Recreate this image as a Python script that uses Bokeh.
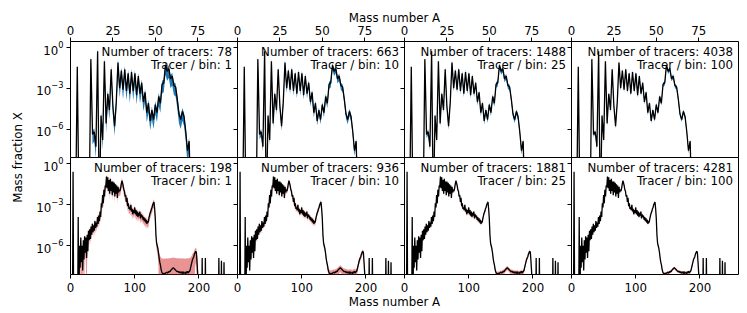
import math
from bokeh.plotting import figure
from bokeh.models import (Range1d, FixedTicker, Label,
                          CustomJSTickFormatter, ColumnDataSource)
from bokeh.embed import file_html
from bokeh.resources import INLINE

# ---------------- data ----------------
# log10 of the mass fraction X; ABSENT marks bins with no material
ABSENT = -12
# top row: mass number A = 1..75
mass_top = list(range(1, 76))
log_x_top = [
    -12, -12, -12, -1.42, -12, -12, -12, -12, -12, -12,
    -12, -0.85, -6.4, -6.2, -7.3, -0.27, -12, -5.0, -6.8, -1.0,
    -5.6, -3.4, -4.6, -1.6, -4.3, -5.8, -4.0, -1.1, -3.0, -1.7,
    -3.1, -1.6, -3.2, -1.9, -3.4, -1.8, -3.2, -1.9, -3.5, -2.1,
    -3.4, -2.6, -4.0, -3.3, -4.8, -4.1, -5.4, -4.6, -5.3, -4.2,
    -4.8, -3.6, -4.1, -2.7, -2.6, -1.3, -1.75, -1.55, -2.3, -2.1,
    -2.8, -2.9, -3.8, -4.9, -5.3, -4.7, -5.1, -6.2, -7.6, -6.9,
    -12, -12, -12, -12, -12,
]
# bottom row: mass number A = 1..245
mass_bot = list(range(1, 246))
log_x_bot = [
    -12, -12, -12, -0.6, -12, -12, -12, -12, -12, -12,
    -12, -3.9, -12, -6.0, -7.6, -5.4, -7.2, -6.0, -7.8, -5.6,
    -7.0, -5.3, -6.5, -5.4, -6.9, -5.2, -6.4, -4.9, -5.6, -4.8,
    -5.5, -4.6, -5.2, -4.4, -5.0, -4.5, -4.9, -4.2, -4.7, -4.3,
    -4.6, -3.9, -4.4, -3.8, -4.2, -3.5, -3.9, -2.9, -3.2, -2.3,
    -2.9, -1.9, -2.4, -1.6, -1.7, -0.95, -1.8, -1.0, -2.0, -1.2,
    -2.2, -1.1, -2.0, -1.3, -2.3, -1.3, -2.1, -1.4, -2.4, -1.5,
    -2.2, -1.6, -2.5, -1.7, -2.1, -1.9, -2.0, -1.8, -1.5, -1.25,
    -1.4, -1.6, -1.9, -2.0, -2.4, -2.3, -2.8, -2.5, -3.1, -2.9,
    -3.3, -3.2, -3.4, -3.0, -3.5, -3.3, -3.7, -3.4, -3.6, -3.2,
    -3.7, -3.4, -3.8, -3.5, -3.9, -3.6, -3.8, -3.5, -4.0, -3.7,
    -3.9, -3.8, -4.1, -3.9, -4.2, -4.0, -4.3, -4.1, -4.4, -4.2,
    -4.3, -4.0, -3.8, -3.6, -3.5, -3.3, -3.2, -3.0, -2.9, -2.8,
    -3.3, -4.0, -5.2, -5.8, -6.0, -6.2, -6.5, -6.9, -7.2, -7.4,
    -7.7, -7.9, -8.0, -8.05, -8.05, -8.0, -8.05, -8.0, -7.95, -7.95,
    -8.0, -7.9, -7.95, -7.85, -7.9, -7.8, -7.75, -7.7, -7.65, -7.6,
    -7.65, -7.7, -7.75, -7.8, -7.85, -7.9, -7.85, -7.9, -7.95, -7.9,
    -8.0, -7.9, -8.0, -7.9, -8.05, -7.9, -8.0, -7.95, -8.05, -7.9,
    -8.0, -7.85, -8.0, -7.9, -7.9, -7.8, -7.6, -7.4, -7.2, -7.0,
    -6.9, -6.8, -6.6, -6.5, -6.4, -6.5, -7.2, -8.0, -12, -12,
    -12, -12, -12, -12, -6.9, -12, -12, -12, -12, -6.9,
    -12, -12, -12, -12, -12, -12, -12, -12, -12, -12,
    -12, -12, -12, -12, -12, -12, -12, -12, -12, -12,
    -6.9, -12, -12, -12, -7.1, -12, -12, -12, -7.2, -12,
    -12, -12, -12, -12, -12,
]
tracers_top = [78, 663, 1488, 4038]
tracers_bot = [198, 936, 1881, 4281]
tracer_per_bin = [1, 10, 25, 100]
# relative spread of the shaded band and its absolute floor, per panel
rel_err_top = [0.8, 0.55, 0.45, 0.35]
rel_err_bot = [0.6, 0.4, 0.3, 0.2]
floor_top = [3e-9, 1e-9, 5e-10, 2e-10]
floor_bot = [1e-7, 3e-9, 1e-9, 3e-10]
x_ticks_top = [0, 25, 50, 75]
x_ticks_bot = [0, 100, 200]
y_ticks = [1e-6, 1e-3, 1.0]
x_max_top = 98.5
x_max_bot = 260
y_min, y_max = 10 ** -8.1, 10 ** 0.45

# ---------------- layout constants ----------------
W, H = 731, 300
FONT = "DejaVu Sans"
FS = "11.8px"
col_left = [62, 229, 396, 563]
frame_w = 167
row_top = [33, 149]
row_h = [116, 117]
STACK = {"position": "absolute", "top": "8px", "left": "8px"}


def make_panel(r, c):
    top = r == 0
    mass = mass_top if top else mass_bot
    logx = log_x_top if top else log_x_bot
    X = [10.0 ** v for v in logx]
    rel = (rel_err_top if top else rel_err_bot)[c]
    flo = (floor_top if top else floor_bot)[c]
    err = [0.0 if lv <= ABSENT else rel * v + flo for v, lv in zip(X, logx)]
    hi = [v + e for v, e in zip(X, err)]
    lo = [max(v - e, 1e-14) for v, e in zip(X, err)]
    src = ColumnDataSource(dict(A=mass, X=X, lo=lo, hi=hi))

    left = col_left[c]
    fh = row_h[r]
    t = row_top[r]
    p = figure(width=W, height=H,
               output_backend="svg", toolbar_location=None,
               x_range=Range1d(0, x_max_top if top else x_max_bot),
               y_range=Range1d(y_min, y_max), y_axis_type="log",
               x_axis_location="above" if top else "below",
               min_border_left=left, min_border_right=W - left - frame_w,
               min_border_top=t, min_border_bottom=H - t - fh,
               background_fill_alpha=0, border_fill_alpha=0,
               outline_line_color="black", outline_line_width=1,
               outline_line_alpha=1, styles=STACK)
    p.xgrid.grid_line_color = None
    p.ygrid.grid_line_color = None
    if top:
        p.varea(x="A", y1="lo", y2="hi", source=src,
                fill_color="#1f77b4", fill_alpha=1.0)
    else:
        p.varea(x="A", y1="lo", y2="hi", source=src,
                fill_color="#d62728", fill_alpha=0.5)
    p.line(x="A", y="X", source=src, line_color="black", line_width=1.3)

    for ax in p.axis:
        ax.axis_line_color = None
        ax.major_tick_line_color = "black"
        ax.major_tick_line_width = 1
        ax.major_tick_out = 4
        ax.major_tick_in = 0
        ax.minor_tick_line_color = None
        ax.major_label_text_font = FONT
        ax.major_label_text_font_size = FS
        ax.major_label_text_color = "black"
        ax.major_label_standoff = 3
    if not top:
        p.xaxis.major_label_standoff = 4
    p.xaxis.ticker = FixedTicker(ticks=x_ticks_top if top else x_ticks_bot)
    p.yaxis.ticker = FixedTicker(ticks=y_ticks)
    if c > 0:
        p.yaxis.formatter = CustomJSTickFormatter(code="return ''")

    n = (tracers_top if top else tracers_bot)[c]
    p.add_layout(Label(x=frame_w - 5.5, y=fh - 10.3, x_units="screen",
                       y_units="screen", text=f"Number of tracers: {n}",
                       text_align="right", text_baseline="alphabetic",
                       text_font=FONT, text_font_size=FS, text_color="black"))
    p.add_layout(Label(x=frame_w - 5.5, y=fh - 23.7, x_units="screen",
                       y_units="screen",
                       text=f"Tracer / bin: {tracer_per_bin[c]}",
                       text_align="right", text_baseline="alphabetic",
                       text_font=FONT, text_font_size=FS, text_color="black"))
    return p


# figure holding the shared axis titles (frame = whole canvas)
lab = figure(width=W, height=H, output_backend="svg", toolbar_location=None,
             x_range=Range1d(0, 1), y_range=Range1d(0, 1), min_border=0,
             x_axis_location=None, y_axis_location=None,
             outline_line_color=None, background_fill_alpha=0,
             border_fill_alpha=0, styles=STACK)
lab.xgrid.grid_line_color = None
lab.ygrid.grid_line_color = None
lab.add_layout(Label(x=386, y=H - 9.3, x_units="screen", y_units="screen",
                     text="Mass number A", text_align="center",
                     text_baseline="alphabetic", text_font=FONT,
                     text_font_size=FS, text_color="black"))
lab.add_layout(Label(x=386, y=H - 293.3, x_units="screen", y_units="screen",
                     text="Mass number A", text_align="center",
                     text_baseline="alphabetic", text_font=FONT,
                     text_font_size=FS, text_color="black"))
lab.add_layout(Label(x=9.3, y=H - 149, x_units="screen", y_units="screen",
                     text="Mass fraction X", angle=math.pi / 2,
                     text_align="center", text_baseline="alphabetic",
                     text_font=FONT, text_font_size=FS, text_color="black"))

figs = [lab] + [make_panel(r, c) for r in range(2) for c in range(4)]

open("out.html", "w").write(file_html(figs, INLINE))
